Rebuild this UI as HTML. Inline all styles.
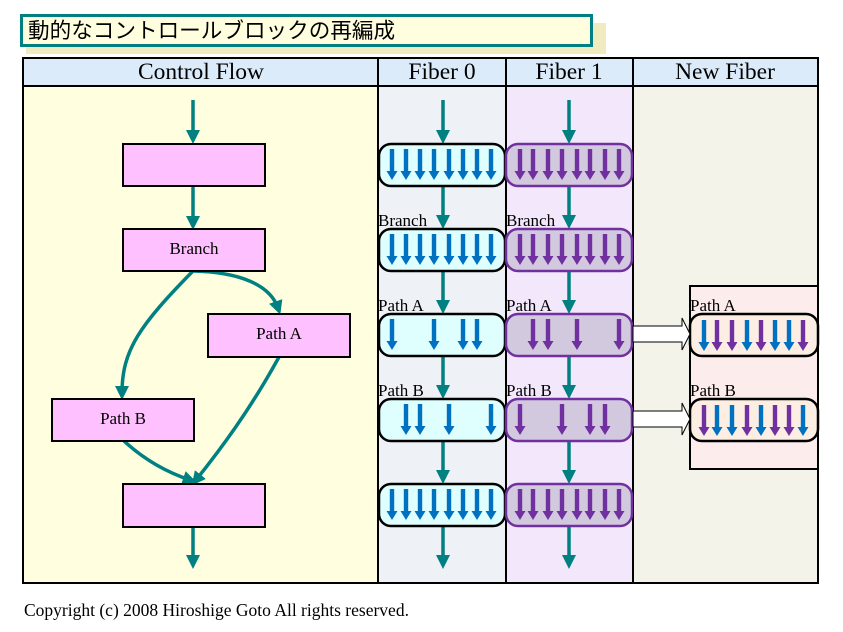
<!DOCTYPE html>
<html><head><meta charset="utf-8"><style>
body{margin:0;background:#fff;}
svg{display:block;font-family:"Liberation Serif",serif;}
</style></head><body>
<svg width="843" height="632" viewBox="0 0 843 632" xmlns="http://www.w3.org/2000/svg">
<defs>
<polygon id="ab" points="-2.2,0 2.2,0 2.2,22 5.5,22 0,31 -5.5,22 -2.2,22" fill="#0070c0"/>
<polygon id="ap" points="-2.2,0 2.2,0 2.2,22 5.5,22 0,31 -5.5,22 -2.2,22" fill="#7030a0"/>
<marker id="mt" markerWidth="4" markerHeight="4" refX="2" refY="2" orient="auto" markerUnits="strokeWidth"><path d="M0,0 L4,2 L0,4 z" fill="#008080"/></marker>
</defs>
<rect x="26" y="23" width="580" height="31" fill="#f0ecbf"/>
<rect x="21.5" y="15.5" width="570" height="30" fill="#ffffe0" stroke="#008080" stroke-width="3"/>
<text x="28" y="38" font-size="21.6" font-family="'Liberation Sans','Noto Sans CJK JP',sans-serif">動的なコントロールブロックの再編成</text>
<rect x="23" y="58" width="795" height="28" fill="#dcebfa"/>
<rect x="23" y="86" width="355" height="497" fill="#ffffe0"/>
<rect x="378" y="86" width="128" height="497" fill="#eef1f5"/>
<rect x="506" y="86" width="127" height="497" fill="#f3e7fc"/>
<rect x="633" y="86" width="185" height="497" fill="#f3f3ea"/>
<g stroke="#000" stroke-width="2" fill="none">
<rect x="23" y="58" width="795" height="525"/>
<line x1="23" y1="86" x2="818" y2="86"/>
<line x1="378" y1="58" x2="378" y2="583"/>
<line x1="506" y1="58" x2="506" y2="583"/>
<line x1="633" y1="58" x2="633" y2="583"/>
</g>
<g font-size="23.5" text-anchor="middle">
<text x="201" y="79">Control Flow</text>
<text x="442" y="79">Fiber 0</text>
<text x="569" y="79">Fiber 1</text>
<text x="725" y="79">New Fiber</text>
</g>
<g stroke="#008080" stroke-width="3.5" marker-end="url(#mt)">
<line x1="193" y1="100" x2="193" y2="137"/>
<line x1="193" y1="186" x2="193" y2="223"/>
<line x1="193" y1="527" x2="193" y2="562"/>
<line x1="443" y1="100" x2="443" y2="137"/>
<line x1="443" y1="186" x2="443" y2="222"/>
<line x1="443" y1="271" x2="443" y2="307"/>
<line x1="443" y1="356" x2="443" y2="392"/>
<line x1="443" y1="441" x2="443" y2="477"/>
<line x1="443" y1="526" x2="443" y2="562"/>
<line x1="569" y1="100" x2="569" y2="137"/>
<line x1="569" y1="186" x2="569" y2="222"/>
<line x1="569" y1="271" x2="569" y2="307"/>
<line x1="569" y1="356" x2="569" y2="392"/>
<line x1="569" y1="441" x2="569" y2="477"/>
<line x1="569" y1="526" x2="569" y2="562"/>
</g>
<g stroke="#008080" stroke-width="3.5" fill="none" marker-end="url(#mt)">
<path d="M193,271 C240,272 270,285 278,308"/>
<path d="M193,271 C140,325 122,350 122,393"/>
<path d="M124,441 C150,465 175,475 190,480"/>
<path d="M279,357 C250,410 220,450 196,480"/>
</g>
<g fill="#ffc0ff" stroke="#000" stroke-width="2">
<rect x="123" y="144" width="142" height="42"/>
<rect x="123" y="229" width="142" height="42"/>
<rect x="208" y="314" width="142" height="43"/>
<rect x="52" y="399" width="142" height="42"/>
<rect x="123" y="484" width="142" height="43"/>
</g>
<g font-size="17" text-anchor="middle">
<text x="194" y="254">Branch</text>
<text x="279" y="339">Path A</text>
<text x="123" y="424">Path B</text>
</g>
<g stroke="#000" stroke-width="2.5" fill="#dfffff">
<rect x="379" y="144" width="126" height="42" rx="12"/>
<rect x="379" y="229" width="126" height="42" rx="12"/>
<rect x="379" y="314" width="126" height="42" rx="12"/>
<rect x="379" y="399" width="126" height="42" rx="12"/>
<rect x="379" y="484" width="126" height="42" rx="12"/>
</g>
<g stroke="#7030a0" stroke-width="2.5" fill="#d3c9df">
<rect x="506" y="144" width="126" height="42" rx="12"/>
<rect x="506" y="229" width="126" height="42" rx="12"/>
<rect x="506" y="314" width="126" height="42" rx="12"/>
<rect x="506" y="399" width="126" height="42" rx="12"/>
<rect x="506" y="484" width="126" height="42" rx="12"/>
</g>
<g>
<use href="#ab" x="392" y="149"/><use href="#ab" x="406" y="149"/><use href="#ab" x="420" y="149"/><use href="#ab" x="434" y="149"/><use href="#ab" x="449" y="149"/><use href="#ab" x="463" y="149"/><use href="#ab" x="477" y="149"/><use href="#ab" x="491" y="149"/>
<use href="#ab" x="392" y="234"/><use href="#ab" x="406" y="234"/><use href="#ab" x="420" y="234"/><use href="#ab" x="434" y="234"/><use href="#ab" x="449" y="234"/><use href="#ab" x="463" y="234"/><use href="#ab" x="477" y="234"/><use href="#ab" x="491" y="234"/>
<use href="#ab" x="392" y="319"/><use href="#ab" x="434" y="319"/><use href="#ab" x="463" y="319"/><use href="#ab" x="477" y="319"/>
<use href="#ab" x="406" y="404"/><use href="#ab" x="420" y="404"/><use href="#ab" x="449" y="404"/><use href="#ab" x="491" y="404"/>
<use href="#ab" x="392" y="489"/><use href="#ab" x="406" y="489"/><use href="#ab" x="420" y="489"/><use href="#ab" x="434" y="489"/><use href="#ab" x="449" y="489"/><use href="#ab" x="463" y="489"/><use href="#ab" x="477" y="489"/><use href="#ab" x="491" y="489"/>
</g>
<g>
<use href="#ap" x="520" y="149"/><use href="#ap" x="533" y="149"/><use href="#ap" x="548" y="149"/><use href="#ap" x="562" y="149"/><use href="#ap" x="577" y="149"/><use href="#ap" x="590" y="149"/><use href="#ap" x="605" y="149"/><use href="#ap" x="619" y="149"/>
<use href="#ap" x="520" y="234"/><use href="#ap" x="533" y="234"/><use href="#ap" x="548" y="234"/><use href="#ap" x="562" y="234"/><use href="#ap" x="577" y="234"/><use href="#ap" x="590" y="234"/><use href="#ap" x="605" y="234"/><use href="#ap" x="619" y="234"/>
<use href="#ap" x="533" y="319"/><use href="#ap" x="548" y="319"/><use href="#ap" x="577" y="319"/><use href="#ap" x="619" y="319"/>
<use href="#ap" x="520" y="404"/><use href="#ap" x="562" y="404"/><use href="#ap" x="590" y="404"/><use href="#ap" x="605" y="404"/>
<use href="#ap" x="520" y="489"/><use href="#ap" x="533" y="489"/><use href="#ap" x="548" y="489"/><use href="#ap" x="562" y="489"/><use href="#ap" x="577" y="489"/><use href="#ap" x="590" y="489"/><use href="#ap" x="605" y="489"/><use href="#ap" x="619" y="489"/>
</g>
<g font-size="17">
<text x="378" y="226">Branch</text><text x="506" y="226">Branch</text>
<text x="378" y="311">Path A</text><text x="506" y="311">Path A</text>
<text x="378" y="396">Path B</text><text x="506" y="396">Path B</text>
</g>
<rect x="690" y="286" width="128" height="183" fill="#fdecec" stroke="#000" stroke-width="2"/>
<rect x="690" y="314" width="128" height="42" rx="12" fill="#fdeee4" stroke="#000" stroke-width="2.5"/>
<rect x="690" y="399" width="128" height="42" rx="12" fill="#fdeee4" stroke="#000" stroke-width="2.5"/>
<g fill="#fff" stroke="#000" stroke-width="1">
<polygon points="633,326 682,326 682,318 690,334 682,350 682,342 633,342"/>
<polygon points="633,411 682,411 682,403 690,419 682,435 682,427 633,427"/>
</g>
<g>
<use href="#ab" x="704" y="320"/><use href="#ap" x="717" y="320"/><use href="#ap" x="732" y="320"/><use href="#ab" x="747" y="320"/><use href="#ap" x="761" y="320"/><use href="#ab" x="775" y="320"/><use href="#ab" x="789" y="320"/><use href="#ap" x="803" y="320"/>
<use href="#ap" x="704" y="405"/><use href="#ab" x="717" y="405"/><use href="#ab" x="732" y="405"/><use href="#ap" x="747" y="405"/><use href="#ab" x="761" y="405"/><use href="#ap" x="775" y="405"/><use href="#ap" x="789" y="405"/><use href="#ab" x="803" y="405"/>
</g>
<g font-size="17">
<text x="690" y="311">Path A</text>
<text x="690" y="396">Path B</text>
</g>
<text x="24" y="616" font-size="17.5">Copyright (c) 2008 Hiroshige Goto All rights reserved.</text>
</svg>
</body></html>
